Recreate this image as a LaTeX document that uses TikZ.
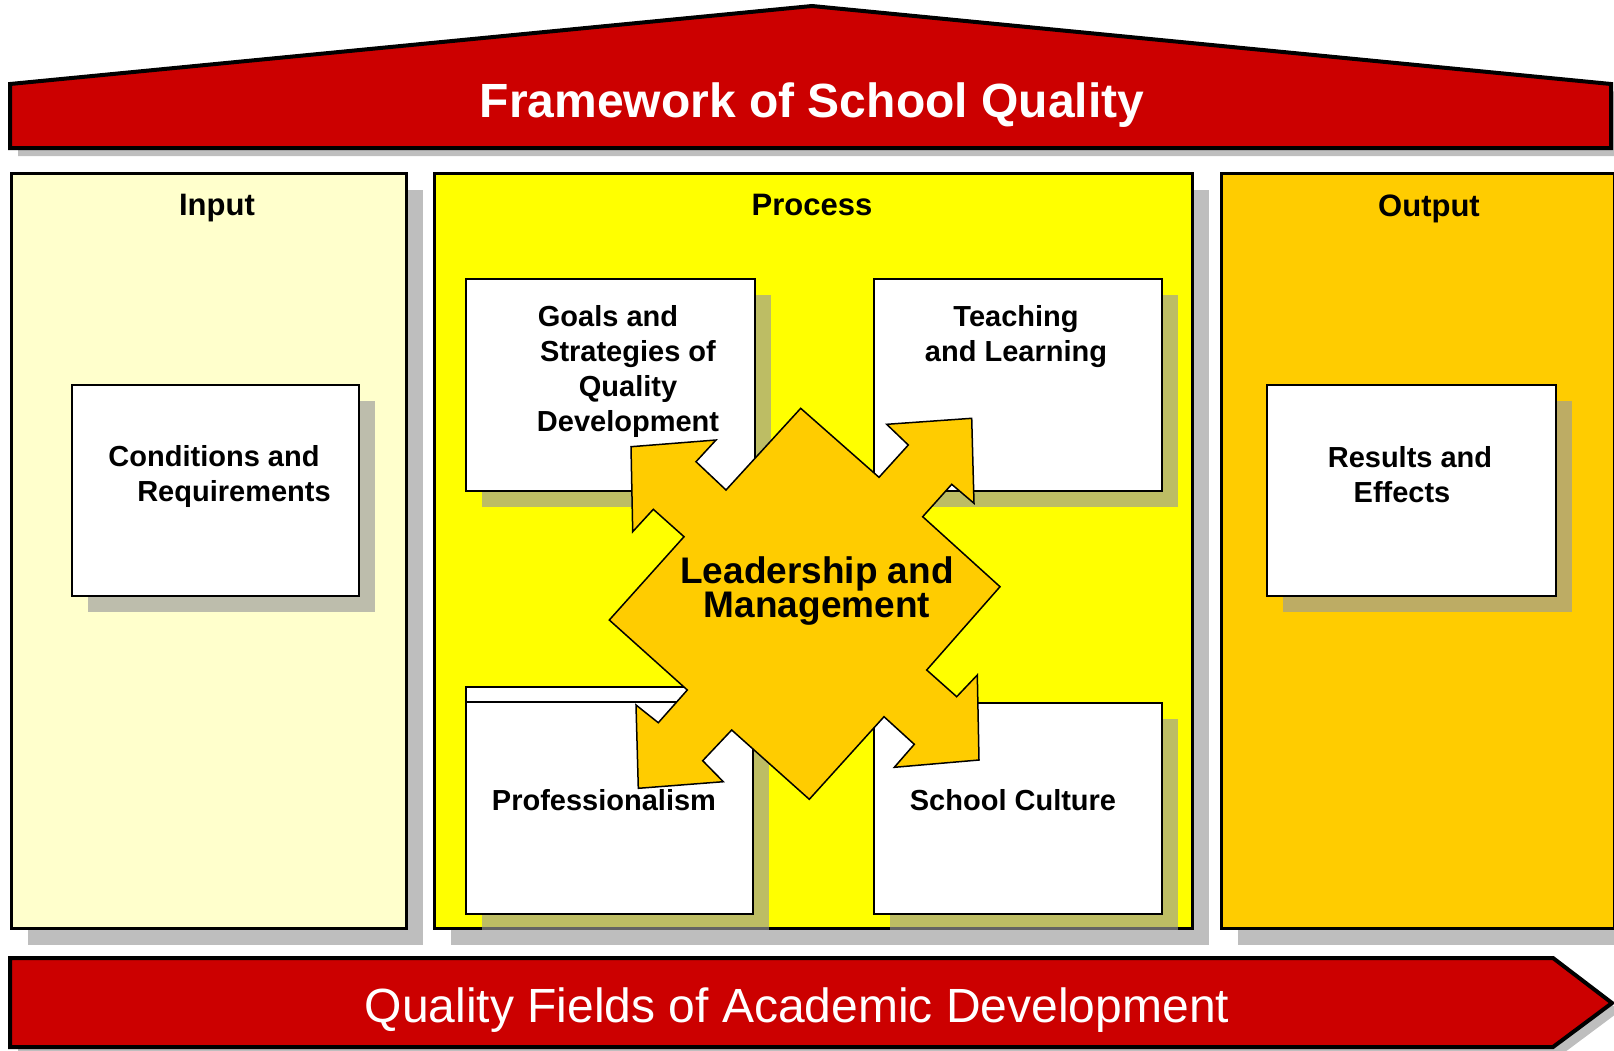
\documentclass[tikz,border=0pt]{standalone}
\usepackage{fontspec}
\setmainfont{Liberation Sans}
\usetikzlibrary{shadows}
\definecolor{roofred}{RGB}{204,0,0}
\definecolor{inbg}{RGB}{255,255,204}
\definecolor{procbg}{RGB}{255,255,0}
\definecolor{outbg}{RGB}{255,204,0}
\definecolor{shd}{RGB}{155,155,155}

\begin{document}
\begin{tikzpicture}[x=1pt,y=-1pt,
  shd16/.style={drop shadow={shadow xshift=16pt,shadow yshift=-16pt,fill=shd,opacity=0.65}},
  col/.style={draw,line width=3.3pt,anchor=north west,inner sep=0pt,shd16},
  box/.style={draw,fill=white,line width=2pt,anchor=north west,inner sep=0pt,shd16},
  head/.style={font=\bfseries\fontsize{31}{36}\selectfont,text height=22pt,text depth=0pt},
  txt/.style={font=\bfseries\fontsize{29}{35}\selectfont,align=center},
  band/.style={draw,line width=4pt,fill=roofred,
    drop shadow={shadow xshift=8pt,shadow yshift=-8pt,fill=shd,opacity=0.65}}]

\useasboundingbox (0,0) rectangle (1614,1050);

% roof
\draw[band] (10,148) -- (10,84) -- (812,6) -- (1611,84) -- (1611,148) -- cycle;
\node[text=white,font=\bfseries\fontsize{48}{56}\selectfont] (title) at (812,105) {Framework of School Quality};

% columns
\node[col,fill=inbg,minimum width=395pt,minimum height=755pt] (in) at (10,172) {};
\node[col,fill=procbg,minimum width=758pt,minimum height=755pt] (proc) at (433,172) {};
\node[col,fill=outbg,minimum width=393pt,minimum height=755pt] (out) at (1220,172) {};
\node[head] (inhead) at (217,204) {Input};
\node[head] (prochead) at (812,204) {Process};
\node[head] (outhead) at (1429,205) {Output};

% boxes
\node[box,minimum width=287pt,minimum height=211pt] (cond) at (71,384) {};
\node[box,minimum width=289pt,minimum height=211pt] (res) at (1266,384) {};
\node[box,minimum width=289pt,minimum height=212pt] (goals) at (465,278) {};
\node[box,minimum width=288pt,minimum height=212pt] (teach) at (873,278) {};
\node[box,minimum width=287pt,minimum height=227pt] (prof) at (465,686) {};
\draw[line width=2pt] ([yshift=-16pt]prof.north west) -- ([yshift=-16pt]prof.north east);
\node[box,minimum width=288pt,minimum height=211pt] (cult) at (873,702) {};

\node[txt] (condtxt) at (224,476) {Conditions and\hspace*{20pt}\\\hspace*{20pt}Requirements};
\node[txt] (restxt) at (1406,475) {\hspace*{8pt}Results and\\Effects\hspace*{8pt}};
\node[txt] (goalstxt) at (628,371) {Goals and\hspace*{40pt}\\Strategies of\\Quality\\Development};
\node[txt] (teachtxt) at (1016,337) {Teaching\\and Learning};
\node[txt] (proftxt) at (604,800) {Professionalism};
\node[txt] (culttxt) at (1013,800) {School Culture};

% leadership star
\draw[fill=outbg,line width=1.5pt,line join=miter]
  (800.7,408.3) -- (879,477.3) -- (908.3,445) -- (886.7,424.3) -- (971.7,418.3)
  -- (974,503.3) -- (951.7,484.3) -- (922.7,516.7) -- (1000,586.7)
  -- (926.7,670) -- (956.7,696.7) -- (977.3,675) -- (979,760)
  -- (894.3,767.3) -- (914.3,744.3) -- (884,716.7) -- (809.3,799.3)
  -- (731.7,730) -- (702.7,760.7) -- (723.3,781.7) -- (638.3,788.3)
  -- (636,705) -- (658.3,722.7) -- (687.3,690) -- (609.3,620)
  -- (684,536.7) -- (653.3,509.3) -- (632.7,531.7) -- (631,446.7)
  -- (716,440) -- (696,461.7) -- (726,490) -- cycle;
\node[align=center,font=\bfseries\fontsize{37}{31}\selectfont] (lead) at (817,591) {Leadership and\\[-1pt]Management};

% bottom arrow
\draw[band] (10,958) -- (1553,958) -- (1612,1003) -- (1553,1047) -- (10,1047) -- cycle;
\node[text=white,font=\fontsize{48}{56}\selectfont] (fields) at (797,1010) {Quality Fields of Academic Development};

\end{tikzpicture}
\end{document}
